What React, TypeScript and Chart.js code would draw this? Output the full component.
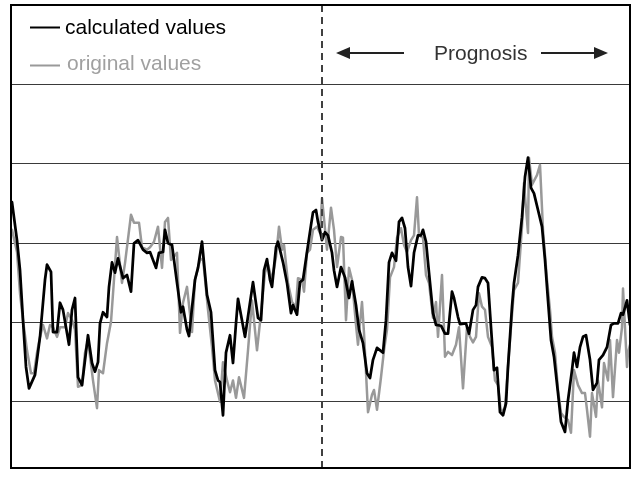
import { useEffect, useRef } from "react";
import { Chart, registerables } from "chart.js";

Chart.register(...registerables);

// [time step, value] pairs of the model output (black) and the measured series (gray)
const calculatedValues: [number, number][] = [
  [0, 25.1], [5, 20.3], [8, 16.5], [11, 10.2], [14, 4.3], [17, 1.6], [23, 3.3], [28, 8.1], [33, 15.3], [35, 17.2],
  [39, 16.3], [41, 8.7], [45, 8.7], [48, 12.4], [51, 11.5], [57, 7.1], [60, 11.5], [63, 13.0], [66, 3.0], [70, 2.0],
  [76, 8.3], [80, 4.8], [83, 3.7], [86, 4.9], [88, 9.8], [91, 11.2], [95, 10.6], [97, 14.4], [100, 17.5], [103, 16.2],
  [106, 18.0], [111, 15.5], [115, 15.9], [119, 13.8], [122, 19.9], [126, 20.3], [131, 19.1], [135, 18.7], [138, 18.8], [144, 16.8],
  [147, 18.7], [151, 18.8], [153, 21.6], [156, 19.9], [160, 19.7], [165, 14.9], [169, 11.2], [171, 11.9], [175, 9.0], [177, 8.2],
  [183, 15.3], [186, 16.8], [190, 20.1], [195, 13.4], [199, 11.2], [203, 3.9], [206, 2.6], [208, 2.4], [211, -1.8], [214, 6.1],
  [218, 8.3], [221, 4.8], [224, 9.8], [226, 12.9], [233, 8.1], [238, 12.4], [241, 15.0], [246, 10.5], [249, 10.2], [252, 16.5],
  [255, 17.9], [258, 15.3], [260, 14.4], [264, 19.4], [266, 20.1], [271, 17.5], [275, 14.9], [279, 11.1], [281, 12.1], [285, 10.9],
  [288, 15.0], [291, 15.3], [295, 18.8], [299, 22.2], [301, 23.8], [304, 24.1], [306, 22.6], [310, 20.3], [313, 21.3], [316, 20.9],
  [320, 18.7], [322, 16.5], [325, 14.4], [329, 16.9], [333, 15.6], [337, 13.0], [340, 15.1], [344, 12.1], [347, 9.0], [351, 7.3],
  [355, 3.5], [358, 2.9], [361, 5.2], [365, 6.7], [371, 6.1], [374, 10.2], [377, 17.5], [380, 18.7], [384, 17.7], [387, 22.6],
  [390, 23.1], [393, 21.8], [396, 16.9], [399, 14.5], [402, 18.7], [406, 20.9], [409, 20.9], [411, 21.6], [414, 20.1], [417, 16.2],
  [421, 11.1], [424, 9.6], [429, 9.5], [433, 8.5], [436, 8.5], [440, 13.8], [442, 13.0], [446, 10.6], [448, 9.7], [454, 9.8],
  [457, 8.5], [461, 11.5], [464, 12.1], [466, 14.4], [470, 15.6], [473, 15.5], [476, 14.9], [479, 9.3], [482, 3.9], [485, 4.2],
  [488, -1.4], [491, -1.8], [494, -0.3], [496, 4.3], [500, 11.9], [502, 14.9], [506, 18.4], [510, 23.2], [513, 28.3], [516, 30.7],
  [519, 26.9], [522, 26.2], [526, 24.1], [530, 22.0], [533, 17.8], [536, 12.7], [539, 7.7], [542, 5.6], [546, 1.0], [549, -2.6],
  [553, -3.9], [556, 0.1], [560, 3.9], [562, 6.1], [565, 4.3], [568, 6.8], [571, 8.1], [574, 8.3], [578, 5.2], [581, 1.4],
  [585, 2.3], [587, 5.2], [591, 5.8], [595, 6.8], [599, 9.6], [602, 9.8], [606, 9.8], [609, 11.1], [611, 10.9], [615, 12.7],
  [618, 9.6],
];

const originalValues: [number, number][] = [
  [0, 21.6], [5, 18.8], [8, 13.6], [11, 10.2], [15, 6.4], [19, 3.5], [22, 3.5], [25, 6.1], [28, 8.1], [31, 9.6],
  [35, 7.9], [38, 9.6], [41, 9.3], [45, 8.1], [48, 9.3], [53, 9.3], [56, 11.1], [60, 10.2], [63, 9.0], [66, 1.8],
  [70, 2.0], [73, 6.1], [76, 7.7], [81, 2.6], [85, -0.9], [87, 3.9], [91, 3.5], [95, 7.3], [99, 10.0], [102, 15.3],
  [105, 20.7], [110, 14.9], [113, 17.4], [119, 23.5], [122, 22.5], [127, 22.5], [130, 19.4], [135, 19.1], [138, 19.4], [142, 20.1],
  [146, 22.0], [150, 16.8], [153, 22.6], [156, 23.1], [159, 17.8], [165, 18.7], [168, 8.6], [171, 12.4], [175, 14.4], [180, 8.7],
  [183, 15.3], [188, 17.8], [191, 18.0], [196, 11.5], [200, 6.8], [203, 2.6], [208, -0.1], [211, 4.9], [215, 2.6], [218, 1.1],
  [221, 2.6], [224, 0.4], [227, 3.0], [232, 0.4], [236, 6.4], [240, 12.7], [245, 6.4], [249, 11.1], [253, 16.2], [256, 17.2],
  [260, 15.3], [264, 18.2], [267, 22.0], [270, 19.1], [272, 19.7], [276, 14.9], [280, 12.5], [284, 11.9], [286, 15.5], [290, 15.3],
  [292, 13.8], [295, 18.7], [298, 19.1], [301, 21.6], [305, 22.0], [308, 21.2], [310, 25.6], [315, 19.1], [319, 24.4], [322, 21.6],
  [325, 16.9], [329, 20.7], [331, 20.6], [334, 10.2], [337, 16.8], [340, 15.3], [344, 9.6], [346, 7.1], [350, 12.5], [352, 8.6],
  [356, -1.4], [360, 0.8], [362, 1.4], [365, -1.1], [369, 3.0], [372, 6.4], [375, 9.0], [378, 15.6], [382, 16.9], [385, 20.6],
  [389, 21.8], [392, 19.7], [395, 18.8], [399, 20.3], [402, 20.9], [405, 25.7], [407, 20.9], [411, 20.6], [414, 15.9], [417, 14.9],
  [421, 10.5], [424, 12.5], [426, 8.1], [430, 15.9], [433, 5.6], [436, 6.2], [440, 5.8], [444, 7.1], [447, 9.3], [451, 1.6],
  [455, 9.3], [458, 8.1], [461, 7.4], [464, 8.1], [467, 13.6], [470, 11.9], [473, 11.5], [476, 8.1], [480, 6.8], [483, 2.6],
  [486, 2.0], [489, -1.5], [493, -0.8], [496, 4.3], [499, 9.3], [502, 14.0], [506, 14.9], [510, 22.0], [512, 27.5], [516, 21.2],
  [517, 30.7], [520, 27.3], [525, 28.5], [528, 29.8], [531, 21.6], [535, 15.3], [538, 11.5], [540, 8.1], [543, 6.1], [546, 1.4],
  [549, -1.5], [552, -2.0], [556, -2.4], [559, -4.0], [562, 3.9], [566, 2.0], [570, 1.0], [573, 1.0], [575, -1.1], [578, -4.5],
  [580, 1.0], [584, -2.0], [586, 2.6], [590, -0.8], [592, 4.8], [596, 2.6], [598, 7.7], [601, 0.5], [605, 7.7], [607, 6.1],
  [610, 9.3], [611, 14.2], [615, 4.3], [616, 6.1], [618, 7.1],
];

const seriesLabels = ["calculated values", "original values"];
const forecastLabel = "Prognosis";
const forecastStart = 310;
const timeMin = 0;
const timeMax = 618;
const valueMin = -8.45;
const valueMax = 40;
const gridValues = [0, 10, 20, 30, 40];

const FONT = '21px "Liberation Sans", Arial, sans-serif';
const BLACK = "#000000";
const GRAY_LINE = "#999999";
const GRAY_TEXT = "#a0a0a0";

function arrow(ctx: CanvasRenderingContext2D, x1: number, x2: number, y: number) {
  // shaft from x1 to the head, head pointing at x2
  const dir = x2 > x1 ? 1 : -1;
  const headLen = 14;
  const half = 6;
  ctx.beginPath();
  ctx.moveTo(x1, y);
  ctx.lineTo(x2 - dir * (headLen - 1), y);
  ctx.stroke();
  ctx.beginPath();
  ctx.moveTo(x2, y);
  ctx.lineTo(x2 - dir * headLen, y - half);
  ctx.lineTo(x2 - dir * headLen, y + half);
  ctx.closePath();
  ctx.fill();
}

const framePlugin = {
  id: "frame",
  beforeDatasetsDraw(chart: Chart) {
    const { ctx, chartArea, scales } = chart;
    const yScale = scales.y;
    ctx.save();
    ctx.strokeStyle = "#3a3a3a";
    ctx.lineWidth = 1;
    for (const v of gridValues) {
      const y = Math.round(yScale.getPixelForValue(v)) + 0.5;
      ctx.beginPath();
      ctx.moveTo(chartArea.left, y);
      ctx.lineTo(chartArea.right, y);
      ctx.stroke();
    }
    ctx.restore();
  },
  afterDatasetsDraw(chart: Chart) {
    const { ctx, chartArea, scales } = chart;
    const xScale = scales.x;
    const boxTop = 5;
    const boxLeft = chartArea.left - 1;
    const boxRight = chartArea.right;
    const boxBottom = chartArea.bottom;

    ctx.save();
    // forecast boundary
    const xs = Math.round(xScale.getPixelForValue(forecastStart));
    ctx.strokeStyle = "#404040";
    ctx.lineWidth = 2;
    ctx.setLineDash([7, 5]);
    ctx.beginPath();
    ctx.moveTo(xs, boxTop);
    ctx.lineTo(xs, boxBottom);
    ctx.stroke();
    ctx.setLineDash([]);

    // outer frame
    ctx.strokeStyle = BLACK;
    ctx.lineWidth = 2;
    ctx.strokeRect(boxLeft, boxTop, boxRight - boxLeft, boxBottom - boxTop);

    // legend
    ctx.font = FONT;
    ctx.textBaseline = "alphabetic";
    ctx.textAlign = "left";
    ctx.lineWidth = 2;
    ctx.strokeStyle = BLACK;
    ctx.beginPath();
    ctx.moveTo(30, 27.5);
    ctx.lineTo(60, 27.5);
    ctx.stroke();
    ctx.fillStyle = BLACK;
    ctx.fillText(seriesLabels[0], 65, 34);

    ctx.strokeStyle = GRAY_LINE;
    ctx.beginPath();
    ctx.moveTo(30, 65.5);
    ctx.lineTo(60, 65.5);
    ctx.stroke();
    ctx.fillStyle = GRAY_TEXT;
    ctx.fillText(seriesLabels[1], 67, 70);

    // forecast annotation
    ctx.fillStyle = "#333333";
    ctx.fillText(forecastLabel, xs + 112, 60);
    ctx.strokeStyle = "#222222";
    ctx.fillStyle = "#222222";
    ctx.lineWidth = 2;
    arrow(ctx, xs + 82, xs + 14, 53);
    arrow(ctx, xs + 219, xs + 286, 53);
    ctx.restore();
  },
};

export default function App() {
  const canvasRef = useRef<HTMLCanvasElement>(null);

  useEffect(() => {
    const canvas = canvasRef.current;
    if (!canvas) return;
    const chart = new Chart(canvas, {
      type: "line",
      data: {
        datasets: [
          {
            label: seriesLabels[0],
            data: calculatedValues.map(([x, y]) => ({ x, y })),
            borderColor: BLACK,
            borderWidth: 2.75,
          },
          {
            label: seriesLabels[1],
            data: originalValues.map(([x, y]) => ({ x, y })),
            borderColor: GRAY_LINE,
            borderWidth: 2.5,
          },
        ],
      },
      options: {
        responsive: false,
        animation: false,
        devicePixelRatio: 1,
        events: [],
        layout: { padding: { left: 12, right: 2, top: 84, bottom: 13 } },
        elements: {
          point: { radius: 0 },
          line: { tension: 0, borderJoinStyle: "round", borderCapStyle: "round", fill: false },
        },
        scales: {
          x: { type: "linear", min: timeMin, max: timeMax, display: false },
          y: { type: "linear", min: valueMin, max: valueMax, display: false },
        },
        plugins: {
          legend: { display: false },
          tooltip: { enabled: false },
        },
      },
      plugins: [framePlugin],
    });
    return () => chart.destroy();
  }, []);

  return (
    <div style={{ position: "fixed", left: 0, top: 0, width: 632, height: 481, background: "#ffffff" }}>
      <canvas ref={canvasRef} width={632} height={481} style={{ display: "block" }} />
    </div>
  );
}
